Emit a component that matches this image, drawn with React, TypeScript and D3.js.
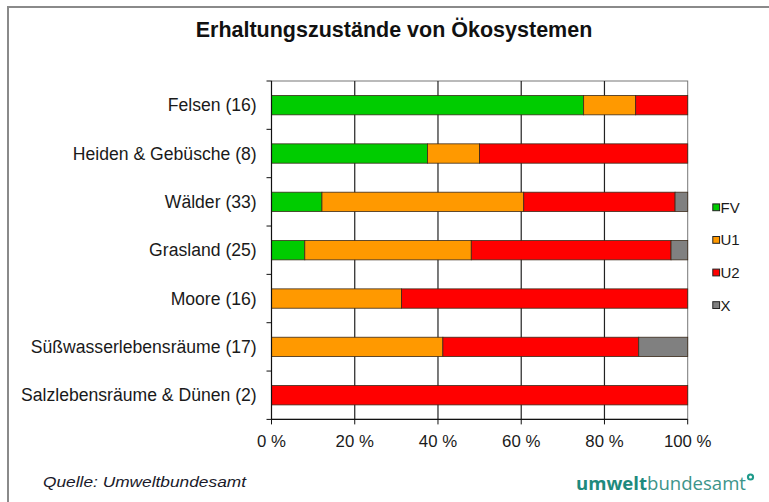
import { useMemo } from "react";
import * as d3 from "d3";

// counts per conservation status
const categories = [
  "Felsen (16)",
  "Heiden & Gebüsche (8)",
  "Wälder (33)",
  "Grasland (25)",
  "Moore (16)",
  "Süßwasserlebensräume (17)",
  "Salzlebensräume & Dünen (2)",
];
const fv = [12, 3, 4, 2, 0, 0, 0];
const u1 = [2, 1, 16, 10, 5, 7, 0];
const u2 = [2, 4, 12, 12, 11, 8, 2];
const xUnknown = [0, 0, 1, 1, 0, 2, 0];

const seriesKeys = ["FV", "U1", "U2", "X"];
const seriesColors = ["#00cc00", "#ff9900", "#ff0000", "#808080"];
const xTicks = [0, 0.2, 0.4, 0.6, 0.8, 1];

const W = 769;
const H = 502;
const PLOT = { left: 271.5, right: 687.7, top: 81, bottom: 419.4 };
const FONT = "'Liberation Sans', Arial, sans-serif";

export default function App() {
  const rows = useMemo(
    () =>
      categories.map((c, i) => ({
        cat: c,
        FV: fv[i],
        U1: u1[i],
        U2: u2[i],
        X: xUnknown[i],
      })),
    []
  );

  const stacked = useMemo(
    () => d3.stack<any>().keys(seriesKeys).offset(d3.stackOffsetExpand)(rows),
    [rows]
  );

  const xScale = d3.scaleLinear().domain([0, 1]).range([PLOT.left, PLOT.right]);
  const yScale = d3
    .scaleBand()
    .domain(categories)
    .range([PLOT.top, PLOT.bottom])
    .paddingInner(0.6)
    .paddingOuter(0.3);
  const step = yScale.step();
  const color = d3.scaleOrdinal<string, string>().domain(seriesKeys).range(seriesColors);
  const fmt = (v: number) => `${Math.round(v * 100)} %`;

  return (
    <svg
      width={W}
      height={H}
      style={{ position: "absolute", left: 0, top: 0, background: "#fff" }}
      fontFamily={FONT}
    >
      {/* outer frame, runs off the right and bottom edges */}
      <rect x={8} y={7} width={800} height={520} fill="#fff" stroke="#8a8a8a" strokeWidth={2} />

      <text x={394} y={36.5} textAnchor="middle" fontSize={21.5} fontWeight="bold" fill="#111">
        Erhaltungszustände von Ökosystemen
      </text>

      {/* plot frame + grid */}
      <rect
        x={PLOT.left}
        y={PLOT.top}
        width={PLOT.right - PLOT.left}
        height={PLOT.bottom - PLOT.top}
        fill="#fff"
        stroke="#777"
        strokeWidth={1}
      />
      {xTicks.slice(1, -1).map((t) => (
        <line key={t} x1={xScale(t)} x2={xScale(t)} y1={PLOT.top} y2={PLOT.bottom} stroke="#222" strokeWidth={1.2} />
      ))}

      {/* bars */}
      {stacked.map((s, si) =>
        s.map((d, i) => {
          const w = xScale(d[1]) - xScale(d[0]);
          if (w <= 0) return null;
          return (
            <rect
              key={`${si}-${i}`}
              x={xScale(d[0])}
              y={yScale(categories[i])}
              width={w}
              height={yScale.bandwidth()}
              fill={color(seriesKeys[si])}
              stroke="#3a2a1a"
              strokeWidth={0.8}
            />
          );
        })
      )}

      {/* y axis */}
      <line x1={PLOT.left} x2={PLOT.left} y1={PLOT.top} y2={PLOT.bottom} stroke="#111" strokeWidth={1.2} />
      {d3.range(categories.length + 1).map((i) => (
        <line
          key={i}
          x1={PLOT.left - 5}
          x2={PLOT.left}
          y1={PLOT.top + i * step}
          y2={PLOT.top + i * step}
          stroke="#111"
          strokeWidth={1}
        />
      ))}
      {categories.map((c) => (
        <text
          key={c}
          x={256.7}
          y={yScale(c)! + yScale.bandwidth() / 2}
          dy="0.35em"
          textAnchor="end"
          fontSize={17.6}
          fill="#1a1a1a"
        >
          {c}
        </text>
      ))}

      {/* x axis */}
      <line x1={PLOT.left} x2={PLOT.right} y1={PLOT.bottom} y2={PLOT.bottom} stroke="#111" strokeWidth={1.2} />
      {xTicks.map((t) => (
        <g key={t}>
          <line x1={xScale(t)} x2={xScale(t)} y1={PLOT.bottom} y2={PLOT.bottom + 5} stroke="#111" strokeWidth={1} />
          <text x={xScale(t)} y={446.5} textAnchor="middle" fontSize={16.8} fill="#1a1a1a">
            {fmt(t)}
          </text>
        </g>
      ))}

      {/* legend */}
      {seriesKeys.map((k, i) => {
        const cy = 207.3 + i * 32.6;
        return (
          <g key={k}>
            <rect x={712.8} y={cy - 3.4} width={6.8} height={6.8} fill={color(k)} stroke="#222" strokeWidth={1} />
            <text x={720.5} y={cy} dy="0.36em" fontSize={15} fill="#1a1a1a">
              {k}
            </text>
          </g>
        );
      })}

      {/* footer */}
      <text x={43} y={487} fontSize={14.5} fontStyle="italic" fill="#1a1a2a" textLength={203} lengthAdjust="spacingAndGlyphs">
        Quelle: Umweltbundesamt
      </text>
      <text x={576} y={490} fontSize={18.5} fontFamily="'Open Sans', sans-serif" fill="#1e8a7d" textLength={170} lengthAdjust="spacingAndGlyphs">
        <tspan fontWeight="bold">umwelt</tspan>
        <tspan fontWeight="normal" fill="#3c948a">bundesamt</tspan>
      </text>
      <circle cx={750.5} cy={477} r={3.6} fill="#1e9a8a" />
      <circle cx={750.5} cy={477} r={1.5} fill="#fff" />
    </svg>
  );
}
